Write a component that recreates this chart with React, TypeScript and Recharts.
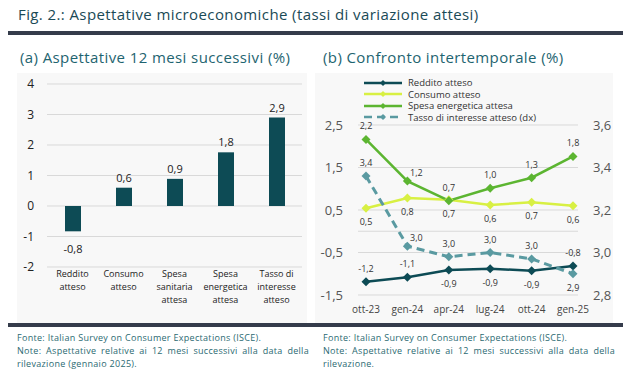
import React from 'react';
import {
  BarChart, Bar, LineChart, Line, XAxis, YAxis, CartesianGrid, LabelList, ReferenceLine, Legend,
} from 'recharts';

// (a) aspettative 12 mesi successivi
const barCategories = [
  'Reddito\natteso',
  'Consumo\natteso',
  'Spesa\nsanitaria\nattesa',
  'Spesa\nenergetica\nattesa',
  'Tasso di\ninteresse\natteso',
];
const barValues = [-0.83, 0.6, 0.89, 1.76, 2.9];
const barTicks = [-2, -1, 0, 1, 2, 3, 4];

// (b) confronto intertemporale
const periods = ['ott-23', 'gen-24', 'apr-24', 'lug-24', 'ott-24', 'gen-25'];
const redditoAtteso = [-1.19, -1.08, -0.91, -0.88, -0.93, -0.82];
const consumoAtteso = [0.54, 0.78, 0.74, 0.62, 0.68, 0.6];
const spesaEnergetica = [2.16, 1.18, 0.72, 1.01, 1.26, 1.76];
const tassoInteresse = [3.36, 3.03, 2.98, 3.0, 2.97, 2.9];
const leftTicks = [-1.5, -0.5, 0.5, 1.5, 2.5];
const rightTicks = [2.8, 3.0, 3.2, 3.4, 3.6];

const FONT = '"Open Sans", "Noto Sans", sans-serif';

// label placement per point (style, not data)
const redditoPos = ['up', 'up', 'down', 'down', 'down', 'up'];
const consumoPos = ['down', 'down', 'down', 'down', 'down', 'down'];
const spesaPos = ['up', 'upRight', 'up', 'up', 'up', 'up'];
const tassoPos = ['up', 'upRight', 'up', 'up', 'up', 'down'];

const fmt = (v: number) => v.toFixed(1).replace('.', ',');

const barData = barCategories.map((name, i) => ({ name, value: barValues[i] }));
const lineData = periods.map((period, i) => ({
  period,
  reddito: redditoAtteso[i],
  consumo: consumoAtteso[i],
  spesa: spesaEnergetica[i],
  tasso: tassoInteresse[i],
}));

const series = [
  { key: 'reddito', name: 'Reddito atteso', color: '#0d4b55', dash: undefined, axis: 'left', pos: redditoPos },
  { key: 'consumo', name: 'Consumo atteso', color: '#d8f043', dash: undefined, axis: 'left', pos: consumoPos },
  { key: 'spesa', name: 'Spesa energetica attesa', color: '#5cb531', dash: undefined, axis: 'left', pos: spesaPos },
  { key: 'tasso', name: 'Tasso di interesse atteso (dx)', color: '#5a9aa1', dash: '8 5', axis: 'right', pos: tassoPos },
];

const diamond = (cx: number, cy: number, r: number) =>
  `M${cx},${cy - r}L${cx + r},${cy}L${cx},${cy + r}L${cx - r},${cy}Z`;

const BarTick = (props: any) => {
  const { x, y, payload } = props;
  const lines = String(payload.value).split('\n');
  return (
    <text x={x} y={y} textAnchor="middle" fontSize={9} fill="#222" fontFamily={FONT}>
      {lines.map((l, i) => (
        <tspan key={i} x={x} dy={i === 0 ? 10 : 13}>{l}</tspan>
      ))}
    </text>
  );
};

const BarValueLabel = (props: any) => {
  const { x, y, width, height, value } = props;
  const top = Math.min(y, y + height);
  const bottom = Math.max(y, y + height);
  const ty = value >= 0 ? top - 6 : bottom + 22;
  return (
    <text x={x + width / 2} y={ty} textAnchor="middle" fontSize={11} fill="#222" fontFamily={FONT}>
      {fmt(value)}
    </text>
  );
};

const pointLabel = (pos: string[]) => (props: any) => {
  const { x, y, value, index } = props;
  const p = pos[index];
  let dx = 0;
  let dy = -13;
  if (p === 'down') dy = 14;
  if (p === 'upRight') { dx = 9; dy = -8; }
  return (
    <text x={x + dx} y={y + dy + 3} textAnchor="middle" fontSize={9} fill="#333" fontFamily={FONT}>
      {fmt(value)}
    </text>
  );
};

const LineLegend = () => (
  <div style={{ fontFamily: FONT, fontSize: 9.5, lineHeight: '11.5px', color: '#333' }}>
    {series.map((s) => (
      <div key={s.key} style={{ display: 'flex', alignItems: 'center', height: 11.5 }}>
        <svg width={42} height={10} style={{ marginRight: 3 }}>
          <line x1={1} y1={5} x2={39} y2={5} stroke={s.color} strokeWidth={2.5} strokeDasharray={s.dash} />
          <path d={diamond(20, 5, 3)} fill={s.color} />
        </svg>
        <span>{s.name}</span>
      </div>
    ))}
  </div>
);

const footStyle: React.CSSProperties = {
  position: 'absolute',
  top: 331,
  width: 292,
  fontSize: 9,
  letterSpacing: 0.3,
  lineHeight: '13px',
  color: '#2b6a72',
  textAlign: 'justify',
};

export default function App() {
  return (
    <div style={{ position: 'relative', width: 623, height: 375, background: '#fff', fontFamily: FONT, overflow: 'hidden' }}>
      <style>{'body{margin:0}'}</style>
      <div style={{ position: 'absolute', left: 18, top: 5, fontSize: 15, letterSpacing: 0.4, lineHeight: '18px', color: '#1a4a56', fontWeight: 500 }}>
        Fig. 2.: Aspettative microeconomiche (tassi di variazione attesi)
      </div>
      <div style={{ position: 'absolute', left: 8, right: 0, top: 31, height: 4, background: '#353c4b' }} />
      <div style={{ position: 'absolute', left: 20, top: 48, fontSize: 15, letterSpacing: 0.4, lineHeight: '18px', color: '#1e6470' }}>
        (a) Aspettative 12 mesi successivi (%)
      </div>
      <div style={{ position: 'absolute', left: 323, top: 48, fontSize: 15, letterSpacing: 0.4, lineHeight: '18px', color: '#1e6470' }}>
        (b) Confronto intertemporale (%)
      </div>

      <div style={{ position: 'absolute', left: 17, top: 73, width: 290, height: 250, background: '#f8f8f8' }}>
        <BarChart width={290} height={250} data={barData} margin={{ top: 11, right: 5, bottom: 6, left: 5 }}>
          <CartesianGrid vertical={false} stroke="#d9d9d9" />
          <XAxis dataKey="name" axisLine={false} tickLine={false} tickSize={0} tickMargin={0} height={50} interval={0} tick={<BarTick />} />
          <YAxis
            domain={[-2, 4]}
            ticks={barTicks}
            interval={0}
            width={25}
            axisLine={false}
            tickLine={false}
            tickSize={0}
            tickMargin={13}
            tick={{ fontSize: 12, fill: '#222', fontFamily: FONT }}
          />
          <Bar dataKey="value" fill="#0d4b55" barSize={16} isAnimationActive={false}>
            <LabelList dataKey="value" content={<BarValueLabel />} />
          </Bar>
        </BarChart>
      </div>

      <div style={{ position: 'absolute', left: 315, top: 73, width: 298, height: 250, background: '#f8f8f8' }}>
        <LineChart width={298} height={250} data={lineData} margin={{ top: 52, right: 0, bottom: 0, left: 0 }}>
          <CartesianGrid vertical={false} stroke="#d9d9d9" yAxisId="left" />
          <XAxis
            dataKey="period"
            axisLine={false}
            tickLine={false}
            tickSize={0}
            tickMargin={11}
            height={28}
            interval={0}
            padding={{ left: 8, right: 5 }}
            tick={{ fontSize: 10, fill: '#444', fontFamily: FONT }}
          />
          <YAxis
            yAxisId="left"
            domain={[-1.5, 2.5]}
            ticks={leftTicks}
            interval={0}
            width={43}
            axisLine={false}
            tickLine={false}
            tickSize={0}
            tickMargin={15}
            tickFormatter={fmt}
            tick={{ fontSize: 13, fill: '#555', fontFamily: FONT }}
          />
          <YAxis
            yAxisId="right"
            orientation="right"
            domain={[2.8, 3.6]}
            ticks={rightTicks}
            interval={0}
            width={35}
            axisLine={false}
            tickLine={false}
            tickSize={0}
            tickMargin={15}
            tickFormatter={fmt}
            tick={{ fontSize: 13, fill: '#555', fontFamily: FONT }}
          />
          <ReferenceLine yAxisId="left" y={0} stroke="#d9d9d9" />
          <Legend
            layout="vertical"
            align="center"
            verticalAlign="middle"
            wrapperStyle={{ left: 48, top: 4, width: 'auto' }}
            content={<LineLegend />}
          />
          {series.map((s) => (
            <Line
              key={s.key}
              yAxisId={s.axis}
              dataKey={s.key}
              name={s.name}
              stroke={s.color}
              strokeWidth={s.dash ? 3 : 2.5}
              strokeDasharray={s.dash}
              isAnimationActive={false}
              dot={(p: any) => <path key={`${s.key}-${p.index}`} d={diamond(p.cx, p.cy, 4.5)} fill={s.color} />}
              activeDot={false}
            >
              <LabelList dataKey={s.key} content={pointLabel(s.pos)} />
            </Line>
          ))}
        </LineChart>
      </div>

      <div style={{ position: 'absolute', left: 8, right: 0, top: 323, height: 4, background: '#353c4b' }} />
      <div style={{ ...footStyle, left: 17 }}>
        <div>Fonte: Italian Survey on Consumer Expectations (ISCE).</div>
        <div>Note: Aspettative relative ai 12 mesi successivi alla data della rilevazione (gennaio 2025).</div>
      </div>
      <div style={{ ...footStyle, left: 323 }}>
        <div>Fonte: Italian Survey on Consumer Expectations (ISCE).</div>
        <div>Note: Aspettative relative ai 12 mesi successivi alla data della rilevazione.</div>
      </div>
    </div>
  );
}
